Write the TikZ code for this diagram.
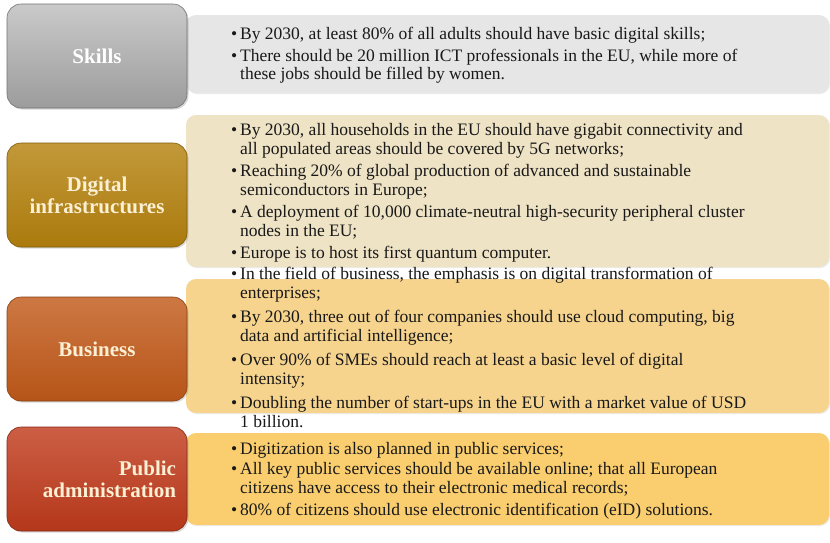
\documentclass[tikz,border=0pt]{standalone}
\usepackage{fontspec}
\setmainfont{Liberation Serif}
\usetikzlibrary{positioning,shadows}

\definecolor{skillsC}{HTML}{A6A6A6}
\definecolor{digitC}{HTML}{B5820E}
\definecolor{busC}{HTML}{C25A1A}
\definecolor{pubC}{HTML}{C03B1C}
\definecolor{skillsL}{HTML}{E6E6E6}
\definecolor{digitL}{HTML}{EFE3C6}
\definecolor{busL}{HTML}{F6D48E}
\definecolor{pubL}{HTML}{FACE6E}
\definecolor{cream}{HTML}{FCF0D4}

\newcommand{\itm}{\makebox[9pt][l]{\textbullet}}
\newcommand{\cnt}{\hspace*{9pt}}

\tikzset{
  tag/.style={rounded corners=14pt, minimum width=180pt, minimum height=104pt,
    inner sep=0pt, draw=#1!70!black, line width=0.6pt,
    top color=#1!82!white, middle color=#1, bottom color=#1!94!black,
    drop shadow={shadow xshift=1.5pt, shadow yshift=-1.5pt, opacity=0.3},
    font=\fontsize{21}{22}\selectfont\bfseries, text=cream, align=center},
  panel/.style={rounded corners=10pt, minimum width=643pt, minimum height=#1,
    inner sep=0pt,
    drop shadow={shadow xshift=1pt, shadow yshift=-1pt, opacity=0.15}},
  points/.style={anchor=west, inner sep=0pt, align=left,
    font=\fontsize{17.5}{18.5}\selectfont, text=black!90}
}

\begin{document}
\begin{tikzpicture}[x=1pt,y=-1pt]
\useasboundingbox[fill=white] (0,0) rectangle (830,542);

% right panels
\node[panel=78pt, fill=skillsL] (skillsbox) at (507.5,54) {};
\node[panel=152pt, fill=digitL] (digitbox) at (507.5,191) {};
\node[panel=134pt, fill=busL] (busbox) at (507.5,346) {};
\node[panel=92pt, fill=pubL] (pubbox) at (507.5,479) {};

% left tags
\node[tag=skillsC, text=white, top color=skillsC!60!white] (skills) at (97,56) {Skills};
\node[tag=digitC] (digit) at (97,195) {Digital\\infrastructures};
\node[tag=busC] (bus) at (97,349) {Business};
\node[tag=pubC, text width=158pt, align=right] (pub) at (97,479)
  {Public\\administration};

% bullet texts
\node[points] (skillstext) at (231,55) {%
\itm By 2030, at least 80\% of all adults should have basic digital skills;\\[3.5pt]
\itm There should be 20 million ICT professionals in the EU, while more of\\
\cnt these jobs should be filled by women.};

\node[points] (digittext) at (231,193) {%
\itm By 2030, all households in the EU should have gigabit connectivity and\\
\cnt all populated areas should be covered by 5G networks;\\[4pt]
\itm Reaching 20\% of global production of advanced and sustainable\\
\cnt semiconductors in Europe;\\[4pt]
\itm A deployment of 10,000 climate-neutral high-security peripheral cluster\\
\cnt nodes in the EU;\\[4pt]
\itm Europe is to host its first quantum computer.};

\node[points] (bustext) at (231,347.5) {%
\itm In the field of business, the emphasis is on digital transformation of\\
\cnt enterprises;\\[6pt]
\itm By 2030, three out of four companies should use cloud computing, big\\
\cnt data and artificial intelligence;\\[6pt]
\itm Over 90\% of SMEs should reach at least a basic level of digital\\
\cnt intensity;\\[6pt]
\itm Doubling the number of start-ups in the EU with a market value of USD\\
\cnt 1 billion.};

\node[points] (pubtext) at (231,481) {%
\itm Digitization is also planned in public services;\\[1.5pt]
\itm All key public services should be available online; that all European\\
\cnt citizens have access to their electronic medical records;\\[4pt]
\itm 80\% of citizens should use electronic identification (eID) solutions.};
\end{tikzpicture}
\end{document}
